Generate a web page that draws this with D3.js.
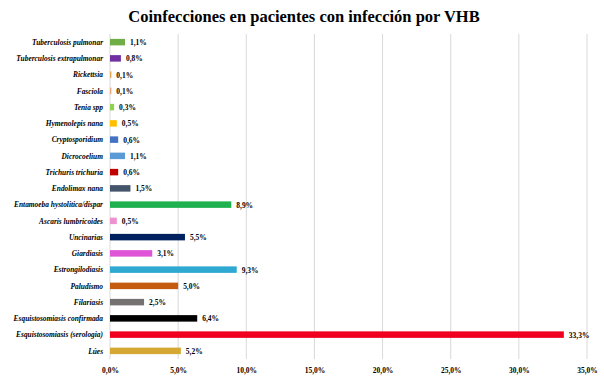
<!DOCTYPE html>
<html>
<head>
<meta charset="utf-8">
<script src="https://cdn.jsdelivr.net/npm/d3@7"></script>
<style>
  body { margin: 0; background: #fff; }
  svg { display: block; }
</style>
</head>
<body>
<svg id="chart"></svg>
<script>
// Data
const categories = [
  "Tuberculosis pulmonar", "Tuberculosis extrapulmonar", "Rickettsia", "Fasciola",
  "Tenia spp", "Hymenolepis nana", "Cryptosporidium", "Dicrocoelium",
  "Trichuris trichuria", "Endolimax nana", "Entamoeba hystolitica/dispar",
  "Ascaris lumbricoides", "Uncinarias", "Giardiasis", "Estrongilodiasis",
  "Paludismo", "Filariasis", "Esquistosomiasis confirmada",
  "Esquistosomiasis (serologia)", "Lúes"
];
const values = [1.1, 0.8, 0.1, 0.1, 0.3, 0.5, 0.6, 1.1, 0.6, 1.5, 8.9, 0.5, 5.5, 3.1, 9.3, 5.0, 2.5, 6.4, 33.3, 5.2];
const barColors = [
  "#70ad47", "#7030a0", "#e2a650", "#eea77c", "#92d050", "#ffc000", "#4472c4", "#5b9bd5",
  "#c00000", "#44546a", "#1fb14f", "#ec92cf", "#002060", "#e055d8", "#2fa8d2",
  "#c55a11", "#767171", "#000000", "#f0001e", "#d4a832"
];
const xTicks = [0, 5, 10, 15, 20, 25, 30, 35];

// Dimensions
const width = 604, height = 381;
const margin = { top: 34, right: 17, bottom: 22, left: 110 };
const serif = "Liberation Serif, Times New Roman, serif";

const svg = d3.select("#chart")
  .attr("width", width)
  .attr("height", height);

const fmt = v => v.toFixed(1).replace(".", ",") + "%";

// squeeze text horizontally (reference font is narrower than Liberation Serif)
function squeeze(sel, k) {
  sel.each(function () {
    const w = this.getComputedTextLength();
    d3.select(this).attr("textLength", w * k).attr("lengthAdjust", "spacingAndGlyphs");
  });
}

// Scales
const x = d3.scaleLinear().domain([0, 35]).range([margin.left, width - margin.right]);
const y = d3.scaleBand().domain(categories).range([margin.top, height - margin.bottom]).paddingInner(0.6).paddingOuter(0.3);

// Title
svg.append("text")
  .attr("x", 304)
  .attr("y", 22)
  .attr("text-anchor", "middle")
  .attr("font-family", serif)
  .attr("font-weight", "bold")
  .attr("font-size", 16.5)
  .text("Coinfecciones en pacientes con infección por VHB");

// Gridlines
svg.append("g")
  .selectAll("line")
  .data(xTicks)
  .join("line")
  .attr("x1", d => x(d))
  .attr("x2", d => x(d))
  .attr("y1", margin.top)
  .attr("y2", height - margin.bottom)
  .attr("stroke", "#d9d9d9")
  .attr("stroke-width", 1);

// X axis labels
const xAxis = svg.append("g")
  .attr("transform", `translate(0, ${height - margin.bottom})`)
  .call(d3.axisBottom(x).tickValues(xTicks).tickFormat(fmt).tickSize(0).tickPadding(8));
xAxis.select(".domain").remove();
xAxis.selectAll("text")
  .attr("font-family", serif)
  .attr("font-weight", "bold")
  .attr("font-size", 8.3)
  .attr("fill", "#000")
  .call(squeeze, 0.9);

// Y axis labels
const yAxis = svg.append("g")
  .attr("transform", `translate(${margin.left}, 0)`)
  .call(d3.axisLeft(y).tickSize(0).tickPadding(7));
yAxis.select(".domain").remove();
yAxis.selectAll("text")
  .attr("font-family", serif)
  .attr("font-weight", "bold")
  .attr("font-style", "italic")
  .attr("font-size", 8.5)
  .attr("fill", "#000")
  .call(squeeze, 0.87);

// Bars
svg.append("g")
  .selectAll("rect")
  .data(values)
  .join("rect")
  .attr("x", x(0))
  .attr("y", (d, i) => y(categories[i]))
  .attr("width", d => x(d) - x(0))
  .attr("height", y.bandwidth())
  .attr("fill", (d, i) => barColors[i]);

// Value labels
svg.append("g")
  .selectAll("text")
  .data(values)
  .join("text")
  .attr("x", d => x(d) + 5)
  .attr("y", (d, i) => y(categories[i]) + y.bandwidth() / 2)
  .attr("dy", "0.35em")
  .attr("font-family", serif)
  .attr("font-weight", "bold")
  .attr("font-size", 8.3)
  .text(fmt)
  .call(squeeze, 0.9);
</script>
</body>
</html>
